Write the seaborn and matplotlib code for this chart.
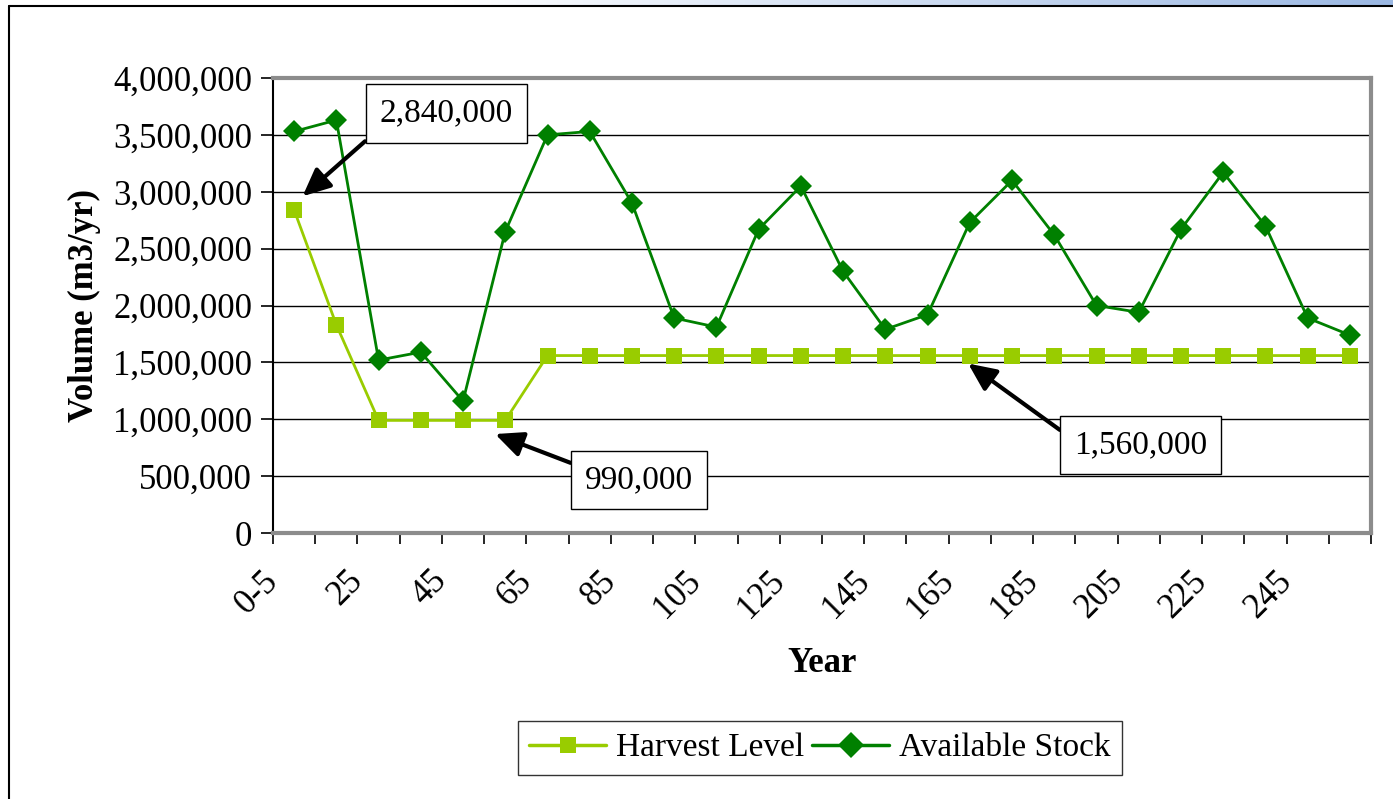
import numpy as np
import pandas as pd
import matplotlib
matplotlib.use("Agg")
import matplotlib.pyplot as plt
import matplotlib.transforms as mtransforms
from matplotlib.lines import Line2D
import seaborn as sns

# --- data ---
years = ["0-5"] + [str(v) for v in range(15, 256, 10)]
harvest = [2840000, 1830000, 990000, 990000, 990000, 990000] + [1560000] * 20
stock = [3530000, 3630000, 1520000, 1590000, 1160000, 2650000, 3500000, 3530000,
         2900000, 1890000, 1810000, 2670000, 3050000, 2300000, 1790000, 1920000,
         2730000, 3100000, 2620000, 2000000, 1940000, 2670000, 3170000, 2700000,
         1890000, 1740000]
series_names = ["Harvest Level", "Available Stock"]
series_colors = ["#99CC00", "#008000"]
series_markers = ["s", "D"]

df = pd.DataFrame({"Year": years * 2,
                   "Volume": harvest + stock,
                   "Series": [series_names[0]] * len(years) + [series_names[1]] * len(years)})

sns.set_theme(style="white")
plt.rcParams["font.family"] = ["Liberation Serif", "DejaVu Serif"]
plt.rcParams.update({"text.color": "black", "axes.labelcolor": "black",
                     "xtick.color": "black", "ytick.color": "black"})

fig = plt.figure(figsize=(13.93, 7.99), dpi=100)
W, H = 1393, 799
ax = fig.add_axes([273 / W, 1 - 533 / H, (1371 - 273) / W, (533 - 78) / H])

for name, col, mk, ms in zip(series_names, series_colors, series_markers, [11, 11.5]):
    sns.lineplot(data=df[df["Series"] == name], x="Year", y="Volume", ax=ax,
                 color=col, marker=mk, markersize=ms, markeredgewidth=0,
                 linewidth=2, sort=False, legend=False)

n = len(years)
ax.set_xlim(-0.5, n - 0.5)
ax.set_ylim(0, 4000000)
ax.set_yticks(np.arange(0, 4000001, 500000))
ax.set_yticklabels([f"{v:,}" for v in range(0, 4000001, 500000)], fontsize=25)
ax.yaxis.grid(True, color="black", linewidth=1)
ax.xaxis.grid(False)

# tick marks between categories, labels on every other category
ax.set_xticks(np.arange(-0.5, n, 1.0))
ax.set_xticklabels([])
ax.set_xticks(np.arange(0, n, 2), minor=True)
ax.set_xticklabels(years[::2], minor=True, fontsize=25, rotation=45,
                   ha="right", va="center", rotation_mode="anchor")
ax.tick_params(axis="x", which="major", direction="out", length=8, width=1.2,
               color="black", bottom=True)
ax.tick_params(axis="x", which="minor", length=0, pad=31)
ax.tick_params(axis="y", direction="out", length=9, width=1.2, color="black",
               left=True, pad=6)
offset = mtransforms.ScaledTranslation(-21 / 100, 0, fig.dpi_scale_trans)
for lab in ax.xaxis.get_minorticklabels():
    lab.set_transform(lab.get_transform() + offset)

ax.set_xlabel("Year", fontsize=25, fontweight="bold", labelpad=16)
ax.set_ylabel("Volume (m3/yr)", fontsize=25, fontweight="bold", labelpad=9)

for side in ["top", "right", "bottom"]:
    ax.spines[side].set_color("#8c8c8c")
    ax.spines[side].set_linewidth(3)
ax.spines["left"].set_color("black")
ax.spines["left"].set_linewidth(1.5)

# callouts
box = dict(boxstyle="square,pad=0.42", fc="white", ec="black", lw=1)
arrow = dict(arrowstyle="-|>,head_length=0.7,head_width=0.32", color="black",
             lw=3, shrinkA=0, shrinkB=0)
ax.annotate("2,840,000", xy=(0.2, 2960000), xytext=(3.6, 3690000), fontsize=24,
            ha="center", va="center", bbox=box,
            arrowprops=dict(arrow, relpos=(0, 0)))
ax.annotate("990,000", xy=(4.76, 870000), xytext=(8.17, 466000), fontsize=24,
            ha="center", va="center", bbox=box,
            arrowprops=dict(arrow, relpos=(0, 0.88)))
ax.annotate("1,560,000", xy=(15.96, 1490000), xytext=(20.05, 774000), fontsize=24,
            ha="center", va="center", bbox=box,
            arrowprops=dict(arrow, relpos=(0, 0.65)))

# legend
handles = [Line2D([], [], color=c, marker=m, markersize=s, markeredgewidth=0, linewidth=2.5)
           for c, m, s in zip(series_colors, series_markers, [11, 13])]
leg = fig.legend(handles, series_names, loc="center", ncol=2, fontsize=24,
                 bbox_to_anchor=(820 / W, 1 - 748 / H), frameon=True, fancybox=False,
                 edgecolor="black", handlelength=2.3, handletextpad=0.3,
                 columnspacing=0.25, borderpad=0.35)
leg.get_frame().set_linewidth(1)

# outer frame and the blue band along the top edge
fig.add_artist(Line2D([9 / W, 9 / W], [0, 1 - 6 / H], color="black", lw=1.5,
                      transform=fig.transFigure))
fig.add_artist(Line2D([9 / W, 1], [1 - 6 / H, 1 - 6 / H], color="black", lw=1.5,
                      transform=fig.transFigure))
band = fig.add_axes([450 / W, 1 - 5 / H, (W - 450) / W, 5 / H])
grad = np.linspace(0, 1, 256)[None, :]
band.imshow(grad, aspect="auto",
            cmap=matplotlib.colors.LinearSegmentedColormap.from_list("b", ["white", "#9bb8e3"]))
band.axis("off")

fig.savefig("out.png", dpi=100)
